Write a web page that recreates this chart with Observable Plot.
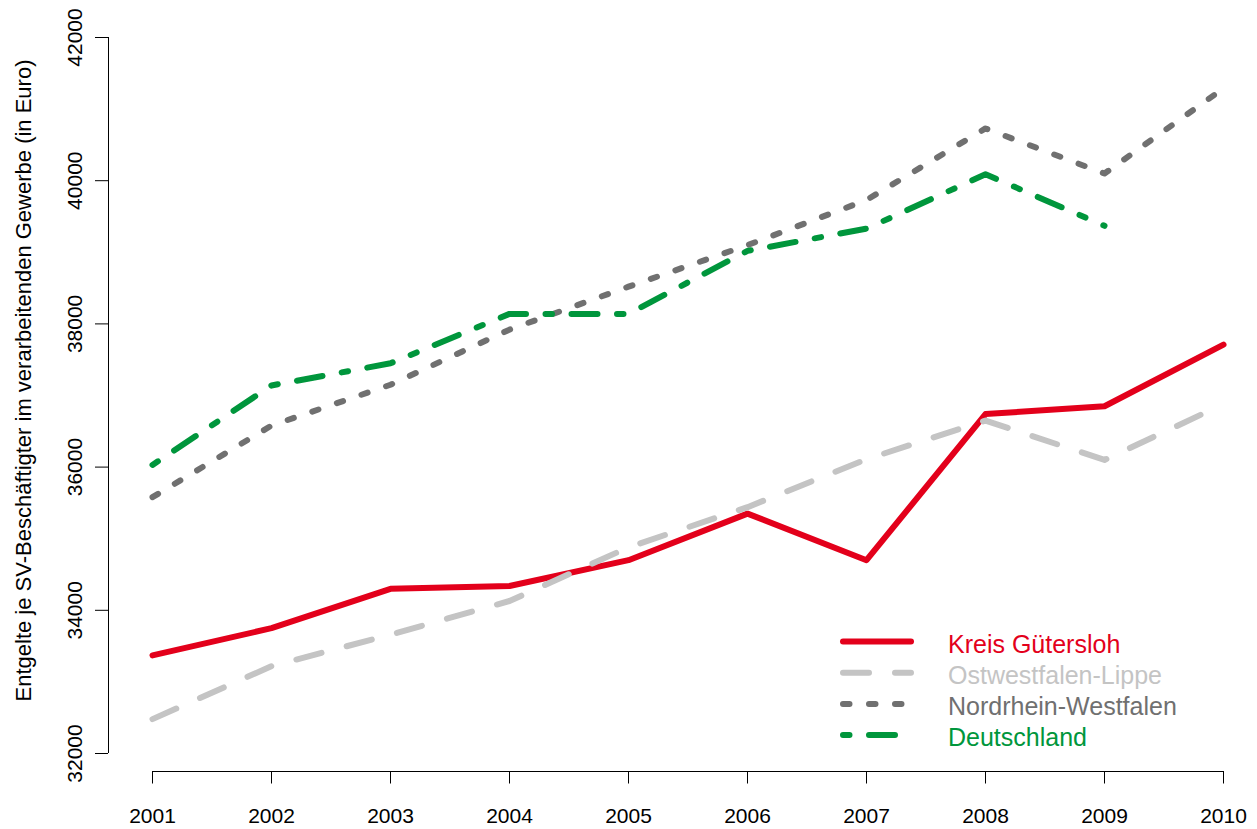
<!DOCTYPE html>
<html>
<head>
<meta charset="utf-8">
<script src="https://cdn.jsdelivr.net/npm/d3@7"></script>
<script src="https://cdn.jsdelivr.net/npm/@observablehq/plot@0.6"></script>
<style>
  body { margin: 0; background: #fff; font-family: "Liberation Sans", Arial, sans-serif; }
  #wrap { position: relative; width: 1257px; height: 829px; }
  #wrap svg { display: block; }
  #legend { position: absolute; left: 0; top: 0; pointer-events: none; }
</style>
</head>
<body>
<div id="wrap"></div>
<script>
// ---- data ----
const years = [2001, 2002, 2003, 2004, 2005, 2006, 2007, 2008, 2009, 2010];
const guetersloh  = [33370, 33750, 34300, 34340, 34700, 35350, 34700, 36740, 36850, 37710];
const owl         = [32480, 33220, 33660, 34130, 34880, 35440, 36110, 36650, 36100, 36880];
const nrw         = [35580, 36580, 37150, 37920, 38520, 39100, 39730, 40730, 40100, 41290];
const deutschland = [36030, 37140, 37450, 38140, 38140, 39020, 39330, 40090, 39370, null];

const seriesNames  = ["Kreis Gütersloh", "Ostwestfalen-Lippe", "Nordrhein-Westfalen", "Deutschland"];
const seriesValues = [guetersloh, owl, nrw, deutschland];
const seriesColors = ["#e3001b", "#c4c4c4", "#707070", "#00963c"];
const seriesDash   = [null, "26 26", "6.5 19.5", "6.5 19.5 26 19.5"];

const yTicks = [32000, 34000, 36000, 38000, 40000, 42000];
const xTicks = years;
const yTitle = "Entgelte je SV-Beschäftigter im verarbeitenden Gewerbe (in Euro)";

// tidy table
const rows = [];
seriesNames.forEach((name, i) => {
  years.forEach((yr, j) => {
    const v = seriesValues[i][j];
    if (v != null) rows.push({series: name, year: yr, value: v});
  });
});

const font = "Liberation Sans, Arial, Helvetica, sans-serif";

const lineMarks = seriesNames.map((name, i) =>
  Plot.line(rows.filter(d => d.series === name), {
    x: "year", y: "value",
    stroke: seriesColors[i],
    strokeWidth: 6,
    strokeDasharray: seriesDash[i],
    strokeLinecap: "round",
    strokeLinejoin: "round"
  })
);

const chart = Plot.plot({
  width: 1257,
  height: 829,
  marginLeft: 152,
  marginRight: 34,
  marginTop: 37,
  marginBottom: 76,
  style: {fontFamily: font, fontSize: "21px", color: "#000", background: "#fff"},
  x: {domain: [2001, 2010]},
  y: {domain: [32000, 42000]},
  marks: [
    // y axis (offset to the left, R style)
    Plot.ruleX([2001], {y1: 32000, y2: 42000, dx: -44, stroke: "#000", strokeWidth: 1}),
    Plot.axisY({
      ticks: yTicks, tickSize: 13, tickPadding: 13.5, dx: -44,
      tickRotate: -90, tickFormat: d => String(d), label: null,
      fontSize: 21, stroke: "#000", fill: "#000"
    }),
    // x axis (offset below)
    Plot.ruleY([32000], {x1: 2001, x2: 2010, dy: 18, stroke: "#000", strokeWidth: 1}),
    Plot.axisX({
      ticks: xTicks, tickSize: 12.5, tickPadding: 24, dy: 18,
      tickFormat: d => String(d), label: null,
      fontSize: 21, stroke: "#000", fill: "#000"
    }),
    // y title
    Plot.text([yTitle], {
      text: d => d, frameAnchor: "left", rotate: -90,
      dx: -129, dy: -15, fontSize: 22, fill: "#000",
      textAnchor: "middle", lineAnchor: "middle"
    }),
    ...lineMarks
  ]
});

const wrap = document.getElementById("wrap");
wrap.appendChild(chart);

// ---- legend overlay ----
const leg = d3.select(wrap).append("svg")
  .attr("id", "legend")
  .attr("width", 1257).attr("height", 829);

const legX1 = 843, legX2 = 911, legTextX = 948, legTop = 641.5, legStep = 31.2;
seriesNames.forEach((name, i) => {
  const yy = legTop + i * legStep;
  leg.append("line")
    .attr("x1", legX1).attr("x2", legX2)
    .attr("y1", yy).attr("y2", yy)
    .attr("stroke", seriesColors[i])
    .attr("stroke-width", 6)
    .attr("stroke-linecap", "round")
    .attr("stroke-dasharray", seriesDash[i]);
  leg.append("text")
    .attr("x", legTextX).attr("y", yy + 11)
    .attr("fill", seriesColors[i])
    .attr("font-family", font)
    .attr("font-size", 25)
    .text(name);
});
</script>
</body>
</html>
